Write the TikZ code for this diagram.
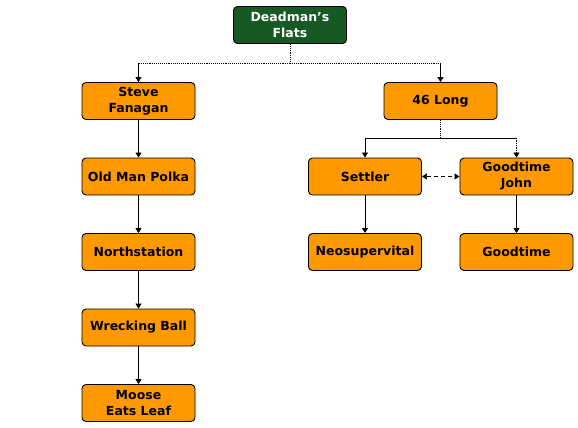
\documentclass[tikz,border=0pt]{standalone}
\usepackage{fontspec}
\setmainfont{DejaVu Sans}
\usetikzlibrary{arrows.meta}
\definecolor{boxorange}{RGB}{255,153,0}
\definecolor{boxgreen}{RGB}{24,88,36}
\begin{document}
\begin{tikzpicture}[x=1pt,y=-1pt,
  box/.style={draw=black, line width=0.9pt, rounded corners=4pt, fill=boxorange,
    minimum width=113pt, minimum height=37pt, align=center, inner sep=1pt,
    font=\fontsize{12.5}{16}\selectfont\bfseries},
  rootbox/.style={box, fill=boxgreen, text=white},
  conn/.style={line width=0.7pt, -{Triangle[length=5pt,width=6pt]}},
  trunk/.style={line width=0.9pt, densely dotted}]
\useasboundingbox (0,0) rectangle (578,428);
\node[rootbox] (root) at (290,25) {Deadman's\\Flats};
\node[box] (steve) at (138.5,101) {Steve\\Fanagan};
\node[box] (long) at (440.5,101) {46 Long};
\node[box] (polka) at (138.5,176.5) {Old Man Polka};
\node[box] (north) at (138.5,252) {Northstation};
\node[box] (wreck) at (138.5,327.5) {Wrecking Ball};
\node[box] (moose) at (138.5,403) {Moose\\Eats Leaf};
\node[box] (settler) at (365,176.5) {Settler};
\node[box] (gjohn) at (516.5,176.5) {Goodtime\\John};
\node[box] (neo) at (365,252) {Neosupervital};
\node[box] (good) at (516.5,252) {Goodtime};
\coordinate (j1) at (290,63);
\coordinate (j2) at (440.5,138);
\draw[trunk] (root.south) -- (j1);
\draw[trunk] (j1) -| (steve.north);
\draw[conn] (steve.north |- j1) -- (steve.north);
\draw[trunk] (j1) -- (long.north |- j1);
\draw[conn] (long.north |- j1) -- (long.north);
\draw[trunk] (long.south) -- (j2);
\draw[conn] (j2) -| (settler.north);
\draw[line width=0.7pt] (j2) -- (gjohn.north |- j2);
\draw[conn, densely dotted] (gjohn.north |- j2) -- (gjohn.north);
\draw[conn] (steve) -- (polka);
\draw[conn] (polka) -- (north);
\draw[conn] (north) -- (wreck);
\draw[conn] (wreck) -- (moose);
\draw[conn] (settler) -- (neo);
\draw[conn] (gjohn) -- (good);
\draw[line width=0.7pt, dashed, dash pattern=on 4pt off 3pt, {Triangle[length=5pt,width=6pt]}-{Triangle[length=5pt,width=6pt]}] (settler.east) -- (gjohn.west);
\end{tikzpicture}
\end{document}
